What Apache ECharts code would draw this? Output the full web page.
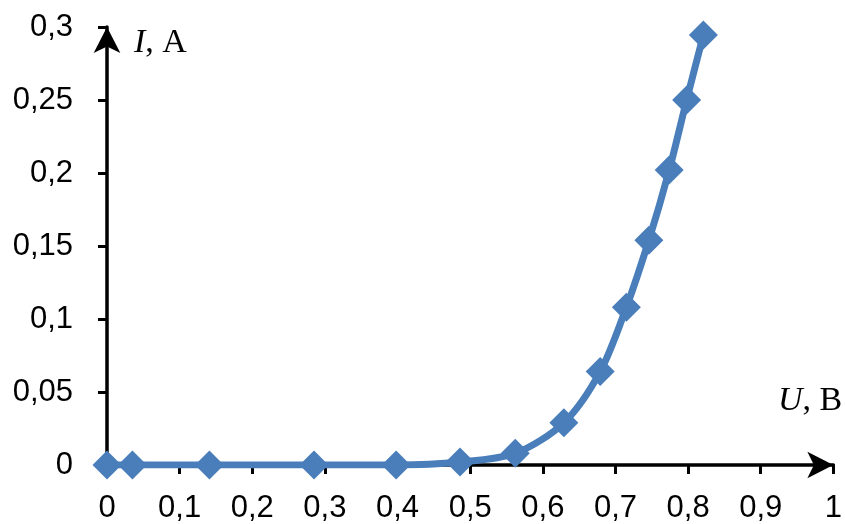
<!DOCTYPE html>
<html><head><meta charset="utf-8">
<script src="https://cdn.jsdelivr.net/npm/echarts@6/dist/echarts.min.js"></script>
<style>html,body{margin:0;padding:0;background:#fff}#c{width:845px;height:524px}</style>
</head><body><div id="c"></div>
<script>
const uValues = [0, 0.035, 0.141, 0.285, 0.398, 0.486, 0.562, 0.629, 0.679, 0.715, 0.746, 0.774, 0.798, 0.821];
const iValues = [0, 0, 0, 0, 0, 0.002, 0.008, 0.029, 0.064, 0.108, 0.154, 0.202, 0.25, 0.2945];
const xTicks = [0, 0.1, 0.2, 0.3, 0.4, 0.5, 0.6, 0.7, 0.8, 0.9, 1];
const yTicks = [0, 0.05, 0.1, 0.15, 0.2, 0.25, 0.3];

const fmt = v => String(parseFloat(v.toFixed(3))).replace('.', ',');
const chart = echarts.init(document.getElementById('c'));
chart.setOption({
  animation: false,
  grid: {left: 107, right: 7, top: 27, bottom: 59, containLabel: false},
  xAxis: {
    type: 'value', min: xTicks[0], max: xTicks[xTicks.length-1], interval: 0.1,
    splitLine: {show: false},
    axisLine: {lineStyle: {color: '#000', width: 3.5}, symbol: ['none', 'arrow'], symbolSize: [20, 26], symbolOffset: [0, 0]},
    axisTick: {show: true, inside: false, length: 9, lineStyle: {color: '#000', width: 3}},
    axisLabel: {formatter: fmt, fontFamily: 'Liberation Sans', fontSize: 31, color: '#000', margin: 28}
  },
  yAxis: {
    type: 'value', min: yTicks[0], max: yTicks[yTicks.length-1], interval: 0.05,
    splitLine: {show: false},
    axisLine: {lineStyle: {color: '#000', width: 3.5}, symbol: ['none', 'arrow'], symbolSize: [20, 26]},
    axisTick: {show: true, inside: false, length: 9, lineStyle: {color: '#000', width: 3}},
    axisLabel: {formatter: fmt, fontFamily: 'Liberation Sans', fontSize: 31, color: '#000', margin: 34}
  },
  graphic: [
    {type: 'text', left: 134, top: 26, style: {rich: {i: {fontFamily: 'Liberation Serif', fontStyle: 'italic', fontSize: 34, fill: '#000'}, r: {fontFamily: 'Liberation Serif', fontSize: 34, fill: '#000'}}, text: '{i|I}{r|, A}'}},
    {type: 'text', left: 778, top: 384, style: {rich: {i: {fontFamily: 'Liberation Serif', fontStyle: 'italic', fontSize: 34, fill: '#000'}, r: {fontFamily: 'Liberation Serif', fontSize: 34, fill: '#000'}}, text: '{i|U}{r|, B}'}}
  ],
  series: [{
    type: 'line', smooth: 0.3,
    data: uValues.map((u, k) => [u, iValues[k]]),
    symbol: 'diamond', symbolSize: 29,
    lineStyle: {color: '#4A7EBB', width: 7},
    itemStyle: {color: '#4A7EBB'},
    z: 3
  }]
});
</script></body></html>
